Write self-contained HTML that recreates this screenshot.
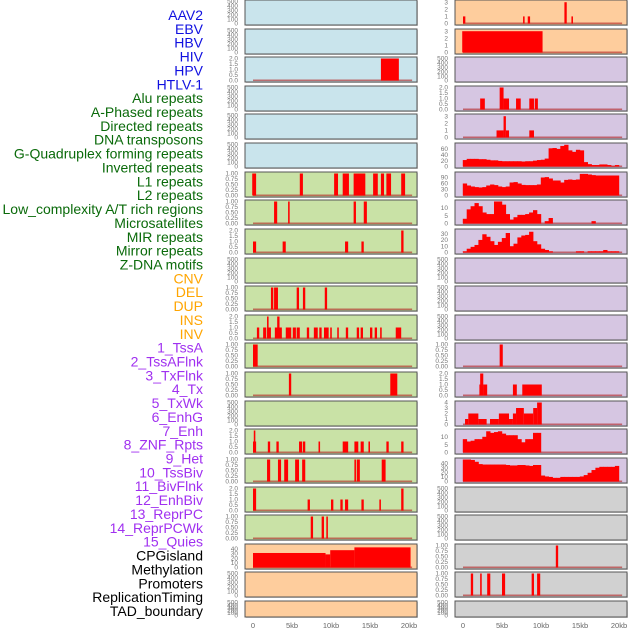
<!DOCTYPE html>
<html><head><meta charset="utf-8">
<style>
html,body{margin:0;padding:0;background:#fff;width:630px;height:630px;overflow:hidden}
svg{display:block;font-family:"Liberation Sans",sans-serif}
</style></head>
<body>
<svg id="chart" width="630" height="630" viewBox="0 0 630 630"></svg>
<script>
const labels = ["AAV2","EBV","HBV","HIV","HPV","HTLV-1","Alu repeats","A-Phased repeats","Directed repeats","DNA transposons","G-Quadruplex forming repeats","Inverted repeats","L1 repeats","L2 repeats","Low_complexity A/T rich regions","Microsatellites","MIR repeats","Mirror repeats","Z-DNA motifs","CNV","DEL","DUP","INS","INV","1_TssA","2_TssAFlnk","3_TxFlnk","4_Tx","5_TxWk","6_EnhG","7_Enh","8_ZNF_Rpts","9_Het","10_TssBiv","11_BivFlnk","12_EnhBiv","13_ReprPC","14_ReprPCWk","15_Quies","CPGisland","Methylation","Promoters","ReplicationTiming","TAD_boundary"];
const labelGroups = [6,13,5,15,5];
const groupColors = ["#1010e0","#0a6a0a","#ffa500","#a030f0","#000000"];
const xTicks = [0,5,10,15,20];
const xTickLabels = ["0","5kb","10kb","15kb","20kb"];
const leftBg = ["b","b","b","b","b","b","g","g","g","g","g","g","g","g","g","g","g","g","g","o","o","o"];
const rightBg = ["o","o","p","p","p","p","p","p","p","p","p","p","p","p","p","p","p","x","x","x","x","x"];
const leftBars = [
 null,null,
 [[16.4,18.7,2]],
 null,null,null,
 [[-0.1,0.4,1],[6.0,6.4,1],[10.4,10.9,1],[11.5,12.3,1],[12.9,14.4,1],[15.4,16.0,1],[16.4,16.8,1],[17.1,17.7,1],[19.0,19.5,1]],
 [[2.7,3.1,1],[4.5,4.7,1],[12.9,13.2,1],[14.2,14.6,1]],
 [[0,0.4,1],[3.8,4.2,1],[11.8,12.2,1],[13.9,14.2,1],[19.0,19.3,2]],
 null,
 [[2.3,2.6,1],[2.7,3.2,1],[5.6,5.9,1],[6.4,6.7,1],[9.2,9.5,1]],
 [[0.5,0.8,1],[1.3,1.7,1],[1.9,2.3,1],[1.8,2.0,2],[2.8,3.7,1],[3.1,3.4,2],[4.2,4.9,1],[5.1,5.5,1],[5.6,6.0,1],[6.9,7.2,1],[7.8,8.3,1],[8.5,8.8,1],[9.1,9.7,1],[9.9,10.1,1],[10.8,11.0,1],[11.9,12.2,1],[13.3,13.6,1],[13.8,14.1,1],[15.0,15.3,1],[15.6,15.9,1],[16.3,16.5,1],[18.3,19.0,1]],
 [[0,0.6,1]],
 [[4.6,4.9,1],[17.6,18.5,1]],
 null,
 [[0,0.4,1],[0.1,0.3,2],[1.9,2.2,1],[3.0,3.3,1],[5.9,6.3,1],[6.4,6.7,1],[8.4,8.6,1],[11.5,12.2,1],[13.0,13.5,1],[13.8,14.2,1],[14.8,15.0,1],[17.1,17.4,1],[19.0,19.3,1]],
 [[1.8,2.2,1],[3.2,3.6,1],[4.0,4.5,1],[5.4,5.9,1],[6.3,6.7,1],[13.0,13.2,1],[13.3,13.7,1],[16.5,17.0,1]],
 [[0,0.4,2],[7.0,7.3,1],[10.0,10.3,1],[11.2,11.5,1],[11.8,12.2,1],[13.9,14.2,1],[16.2,16.4,1],[19.0,19.3,2]],
 [[7.4,7.7,1],[8.8,9.1,1],[9.4,9.6,1]],
 [[0,9.3,31],[9.3,9.9,28],[9.9,13.0,37],[13.0,20.2,43]],
 null,null
];
const leftMax = [500,500,2,500,500,500,1,1,2,500,1,2,1,1,500,2,1,2,1,47,500,500];
const rightBars = [
 [[0.0,0.3,1],[7.7,7.9,1],[8.3,8.6,1],[13.0,13.3,3],[13.9,14.1,1]],
 [[-0.1,10.2,3]],
 null,
 [[2.2,2.8,1],[4.7,5.2,2],[5.2,5.9,1],[6.8,7.4,1],[8.5,9.1,1],[9.2,9.6,1]],
 [[4.3,5.2,1],[5.2,5.5,3],[5.5,5.9,1],[8.5,9.1,1]],
 "s5","s6","s7","s8",
 null,null,null,
 [[4.7,5.1,1]],
 [[2.1,2.6,1],[2.2,2.6,2],[2.6,3.1,1],[6.4,6.9,1],[7.6,10.1,1]],
 [[0.26,0.68,1],[0.68,1.97,2],[1.97,3.03,1],[3.46,4.6,1],[4.6,5.9,2],[5.9,6.4,1],[6.4,6.8,2],[6.8,7.8,3],[7.8,9.0,2],[9.0,9.5,3],[9.5,10.1,4]],
 "s15","s16",
 null,null,
 [[11.9,12.2,1]],
 [[1.0,1.3,1],[2.2,2.4,1],[3.1,3.5,1],[5.0,5.4,1],[8.8,9.1,1],[9.5,9.9,1]],
 null
];
const rightMax = [3.1,3.1,500,2,3.1,75,110,14,35,500,500,500,1,2,4,14,48,500,500,1,1,500];
const s5 = [22,26,26,26,25,25,23,21,21,19,18,18,18,18,18,17,18,18,20,22,23,27,62,63,60,70,74,55,50,57,55,15,8,5,5,7,7,5,2,5];
const s6 = [60,50,45,42,40,42,50,55,52,45,42,45,65,67,60,53,52,52,52,55,90,92,85,75,75,65,78,80,78,80,108,108,105,102,100,100,100,100,100,100];
const s7 = [3,9,11,13,11,7,6,6,14,14,12,6,2.5,4,5.5,5.5,6,7,8.5,6,0,1.5,3.5,0,0,0,0,0,0,0,0,0,0,1.5,0,0,0,0,0,0];
const s8 = [2,6,9,12,20,29,25,18,12,17,23,31,10,14,24,27,28,33,18,13,6,4,2,0,0,0,0,0,0,2,2,0,2,2,2,2,4,2,2,2];
const s15 = [8.5,7,7.5,8.5,8.5,10,13.5,12.5,13,13.5,12,11,11,11,8.5,6.5,8.5,8.5,12.5,12.5,0,0,0,0,0,0,0,0,0,0,0,0,0,0,0,0,0,0,0,0];
const s16 = [48,48,47,43,38,37,37,37,37,37,37,36,35,35,36,36,35,34,36,36,13,11,10,8,8,10,10,10,10,10,11,14,19,25,30,32,32,32,32,34];
const series = {s5,s6,s7,s8,s15,s16};
const tickSets = {
 500:[0,100,200,300,400,500], 1:[0,0.25,0.5,0.75,1], 2:[0,0.5,1,1.5,2], 3.1:[0,1,2,3], 4:[0,1,2,3,4],
 75:[0,20,40,60], 110:[0,30,60,90], 14:[0,5,10], 35:[0,10,20,30], 48:[0,10,20,30,40], 47:[0,10,20,30,40]
};
const bgColors = {b:"#c9e4ec",g:"#c9e2a6",o:"#fecd9d",p:"#d6c6e2",x:"#d1d1d1"};

const NS="http://www.w3.org/2000/svg";
const svg=document.getElementById('chart');
function mk(tag,attrs,parent){const e=document.createElementNS(NS,tag);for(const k in attrs)e.setAttribute(k,attrs[k]);(parent||svg).appendChild(e);return e;}

let li=0;
labelGroups.forEach((n,g)=>{for(let k=0;k<n;k++){
  const t=mk('text',{x:203,y:20+li*13.86,'text-anchor':'end','font-size':'14',fill:groupColors[g]});
  t.textContent=labels[li];
  
  
  li++;}});

function fmt(v,m){if(m===1)return v.toFixed(2);if(m===2)return v.toFixed(1);return String(v);}
function panel(col,i,bg,ymax,data){
  const px=col===0?245:455, pw=172;
  const py=Math.round(i*28.62), ph=i===21?16:25;
  const x0=px+8, kbw=7.8;
  const xs=kb=>x0+kb*kbw;
  const ys=v=>py+ph-1.5-(v/ymax)*(ph-3);
  const g=mk('g',{});
  
  
  mk('rect',{x:px+1,y:py+1,width:pw,height:ph,fill:'#aaa',opacity:0.5},g);
  mk('rect',{x:px,y:py,width:pw,height:ph,fill:bgColors[bg],stroke:'#555','stroke-width':1},g);
  const ticks=tickSets[ymax]||[];
  ticks.forEach(v=>{const t=mk('text',{x:px-7,y:ys(v)+2.2,'text-anchor':'end','font-size':'6.5',fill:'#777'},g);t.textContent=fmt(v,ymax);});
  if(data){
    mk('rect',{x:xs(0),y:ys(0)-1,width:20.4*kbw,height:1.6,fill:'#b02020',opacity:0.6},g);
    if(typeof data==='string'){
      const arr=series[data];
      arr.forEach((v,k)=>{if(v<=0)return;
        const r=mk('rect',{x:xs(k*0.5)-0.2,y:ys(v),width:0.5*kbw+0.4,height:ys(0)-ys(v),fill:'#ff0000'},g);
        
        });
    } else {
      data.forEach(b=>{
        const r=mk('rect',{x:xs(b[0]),y:ys(b[2]),width:Math.max(1.5,(b[1]-b[0])*kbw),height:ys(0)-ys(b[2]),fill:'#ff0000'},g);
        
        });
    }
  }
}
for(let i=0;i<22;i++){
  panel(0,i,leftBg[i],leftMax[i],leftBars[i]);
  panel(1,i,rightBg[i],rightMax[i],rightBars[i]);
}
[253,463].forEach((x0,c)=>{xTicks.forEach((v,k)=>{
  const t=mk('text',{x:x0+v*7.8,y:628,'text-anchor':'middle','font-size':'7.5',fill:'#666'});
  t.textContent=xTickLabels[k];
  
  });});
</script>
</body></html>
